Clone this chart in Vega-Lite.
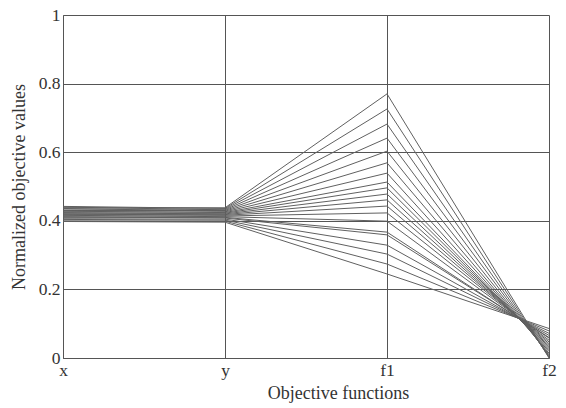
{
  "$schema": "https://vega.github.io/schema/vega-lite/v6.json",
  "autosize": "none",
  "width": 486,
  "height": 343,
  "padding": {"left": 63, "top": 15, "right": 17, "bottom": 50},
  "background": "white",
  "data": {
    "values": [
      {"id": 1, "x": 0.438, "y": 0.438, "f1": 0.770, "f2": 0.000},
      {"id": 2, "x": 0.442, "y": 0.436, "f1": 0.726, "f2": 0.002},
      {"id": 3, "x": 0.434, "y": 0.434, "f1": 0.682, "f2": 0.004},
      {"id": 4, "x": 0.440, "y": 0.432, "f1": 0.641, "f2": 0.007},
      {"id": 5, "x": 0.430, "y": 0.430, "f1": 0.603, "f2": 0.010},
      {"id": 6, "x": 0.436, "y": 0.428, "f1": 0.569, "f2": 0.014},
      {"id": 7, "x": 0.426, "y": 0.426, "f1": 0.539, "f2": 0.019},
      {"id": 8, "x": 0.428, "y": 0.424, "f1": 0.513, "f2": 0.024},
      {"id": 9, "x": 0.422, "y": 0.422, "f1": 0.496, "f2": 0.028},
      {"id": 10, "x": 0.424, "y": 0.420, "f1": 0.478, "f2": 0.033},
      {"id": 11, "x": 0.418, "y": 0.418, "f1": 0.461, "f2": 0.037},
      {"id": 12, "x": 0.420, "y": 0.416, "f1": 0.443, "f2": 0.042},
      {"id": 13, "x": 0.414, "y": 0.414, "f1": 0.423, "f2": 0.047},
      {"id": 14, "x": 0.416, "y": 0.412, "f1": 0.399, "f2": 0.052},
      {"id": 15, "x": 0.410, "y": 0.410, "f1": 0.367, "f2": 0.058},
      {"id": 16, "x": 0.412, "y": 0.408, "f1": 0.359, "f2": 0.060},
      {"id": 17, "x": 0.406, "y": 0.405, "f1": 0.329, "f2": 0.066},
      {"id": 18, "x": 0.404, "y": 0.402, "f1": 0.303, "f2": 0.072},
      {"id": 19, "x": 0.400, "y": 0.399, "f1": 0.274, "f2": 0.079},
      {"id": 20, "x": 0.398, "y": 0.396, "f1": 0.245, "f2": 0.086}
    ]
  },
  "transform": [
    {"fold": ["x", "y", "f1", "f2"], "as": ["objective", "value"]}
  ],
  "mark": {"type": "line", "color": "#606060", "strokeWidth": 1, "clip": true},
  "encoding": {
    "x": {
      "field": "objective",
      "type": "nominal",
      "sort": ["x", "y", "f1", "f2"],
      "scale": {"type": "point", "padding": 0},
      "axis": {
        "title": "Objective functions",
        "labelAngle": 0,
        "ticks": false,
        "grid": true,
        "domain": true,
        "labelPadding": 3,
        "titlePadding": 6,
        "titleX": 275
      }
    },
    "y": {
      "field": "value",
      "type": "quantitative",
      "scale": {"domain": [0, 1], "nice": false, "zero": true},
      "axis": {
        "title": "Normalized objective values",
        "values": [0, 0.2, 0.4, 0.6, 0.8, 1],
        "format": "~g",
        "ticks": false,
        "grid": true,
        "domain": true,
        "labelPadding": 3,
        "titlePadding": 10
      }
    },
    "detail": {"field": "id", "type": "nominal"}
  },
  "config": {
    "view": {"stroke": null},
    "font": "Liberation Serif",
    "axis": {
      "labelFont": "Liberation Serif",
      "titleFont": "Liberation Serif",
      "labelFontSize": 17.5,
      "titleFontSize": 18,
      "titleFontWeight": "normal",
      "labelColor": "#333333",
      "titleColor": "#333333",
      "gridColor": "#555555",
      "gridOpacity": 1,
      "gridWidth": 1,
      "domainColor": "#555555",
      "domainWidth": 1
    }
  }
}
